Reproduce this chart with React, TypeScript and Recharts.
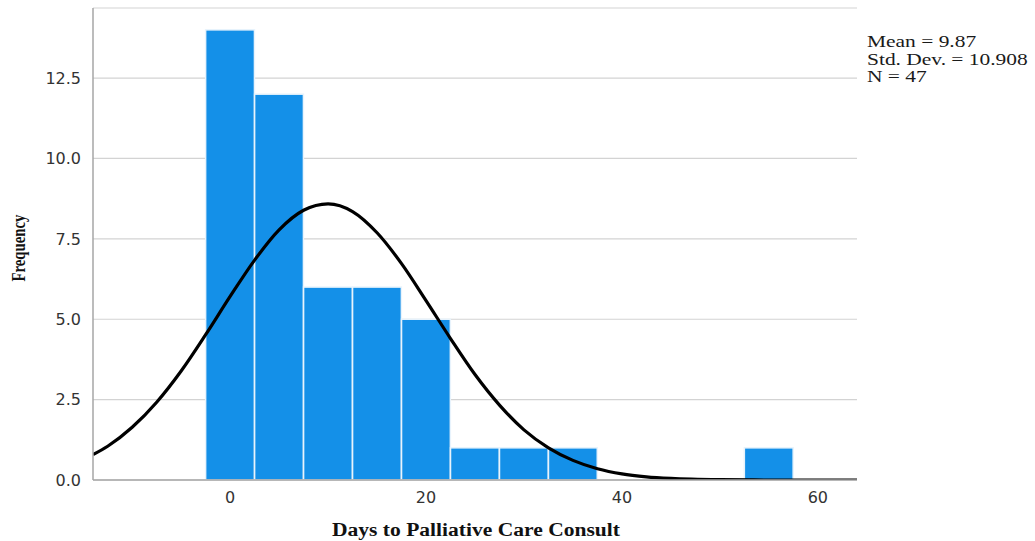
import { Bar, CartesianGrid, ComposedChart, Label, Line, XAxis, YAxis } from "recharts";

// histogram bins (midpoints, width 5 days) and counts
const binMids = [0, 5, 10, 15, 20, 25, 30, 35, 40, 45, 50, 55];
const binCounts = [14, 12, 6, 6, 5, 1, 1, 1, 0, 0, 0, 1];

// fitted normal curve, sampled along the x range
const curveX = [
  -14, -12.5, -10, -7.5, -5, -2.5, 0, 2.5, 5, 7.5, 10, 12.5, 15, 17.5, 20, 22.5, 25, 27.5, 30, 32.5,
  35, 37.5, 40, 42.5, 45, 50, 55, 60, 64,
];
const curveY = [
  0.79, 1.05, 1.64, 2.42, 3.39, 4.52, 5.71, 6.84, 7.78, 8.39, 8.59, 8.35, 7.69, 6.73, 5.58, 4.4,
  3.28, 2.33, 1.56, 1.0, 0.61, 0.35, 0.19, 0.1, 0.05, 0.01, 0, 0, 0,
];

const xTicks = [0, 20, 40, 60];
const yTicks = [0, 2.5, 5, 7.5, 10, 12.5];
const stats = ["Mean = 9.87", "Std. Dev. = 10.908", "N = 47"];

const bins = binMids.map((mid, i) => ({ mid, count: binCounts[i] }));
const curve = curveX.map((x, i) => ({ x, y: curveY[i] }));

const X_DOMAIN: [number, number] = [-14, 64];
const tickStyle = { fontSize: 16, fill: "#333", fontFamily: "DejaVu Sans" };
const serif = "'Liberation Serif', 'Times New Roman', serif";

function BinRect(props: any) {
  const { x, y, width, height } = props;
  if (!height || height <= 0) return null;
  return <rect x={x} y={y} width={width} height={height} fill="#1490e8" stroke="#e8f3fc" strokeWidth={1.5} />;
}

export default function App() {
  return (
    <div style={{ position: "absolute", left: 0, top: 0, width: 1035, height: 541, background: "#fff" }}>
      <ComposedChart width={1035} height={541} data={bins} margin={{ top: 8, right: 178, bottom: 0, left: 0 }}>
        <CartesianGrid vertical={false} stroke="#d3d3d3" strokeWidth={1.2} />
        <XAxis
          dataKey="mid"
          type="number"
          domain={X_DOMAIN}
          allowDataOverflow
          ticks={xTicks}
          tick={tickStyle}
          tickLine={false}
          stroke="#a6a6a6"
          strokeWidth={1.5}
          height={61}
          tickMargin={6}
        >
          <Label
            content={() => (
              <text
                x={476}
                y={536}
                textAnchor="middle"
                textLength={288}
                lengthAdjust="spacingAndGlyphs"
                fontFamily={serif}
                fontWeight="bold"
                fontSize={18}
                fill="#111"
              >
                Days to Palliative Care Consult
              </text>
            )}
          />
        </XAxis>
        <XAxis xAxisId="curve" type="number" dataKey="x" domain={X_DOMAIN} allowDataOverflow hide />
        <YAxis
          type="number"
          domain={[0, 14.68]}
          allowDataOverflow
          ticks={yTicks}
          tickFormatter={(v: number) => v.toFixed(1)}
          tick={tickStyle}
          tickLine={false}
          stroke="#a6a6a6"
          strokeWidth={1.5}
          width={93}
          tickMargin={6}
        >
          <Label
            content={() => (
              <text
                x={25}
                y={248}
                transform="rotate(-90 25 248)"
                textAnchor="middle"
                textLength={67}
                lengthAdjust="spacingAndGlyphs"
                fontFamily={serif}
                fontWeight="bold"
                fontSize={19}
                fill="#111"
              >
                Frequency
              </text>
            )}
          />
        </YAxis>
        <Bar dataKey="count" barSize={48.8} shape={<BinRect />} isAnimationActive={false} />
        <Line
          xAxisId="curve"
          data={curve}
          dataKey="y"
          type="monotone"
          stroke="#000"
          strokeWidth={3.2}
          dot={false}
          activeDot={false}
          isAnimationActive={false}
        />
      </ComposedChart>
      <div
        style={{
          position: "absolute",
          left: 867,
          top: 33,
          fontFamily: serif,
          fontSize: 16,
          lineHeight: "17.5px",
          color: "#1a1a1a",
          whiteSpace: "nowrap",
          transform: "scaleX(1.34)",
          transformOrigin: "left top",
        }}
      >
        {stats.map((s) => (
          <div key={s}>{s}</div>
        ))}
      </div>
    </div>
  );
}
